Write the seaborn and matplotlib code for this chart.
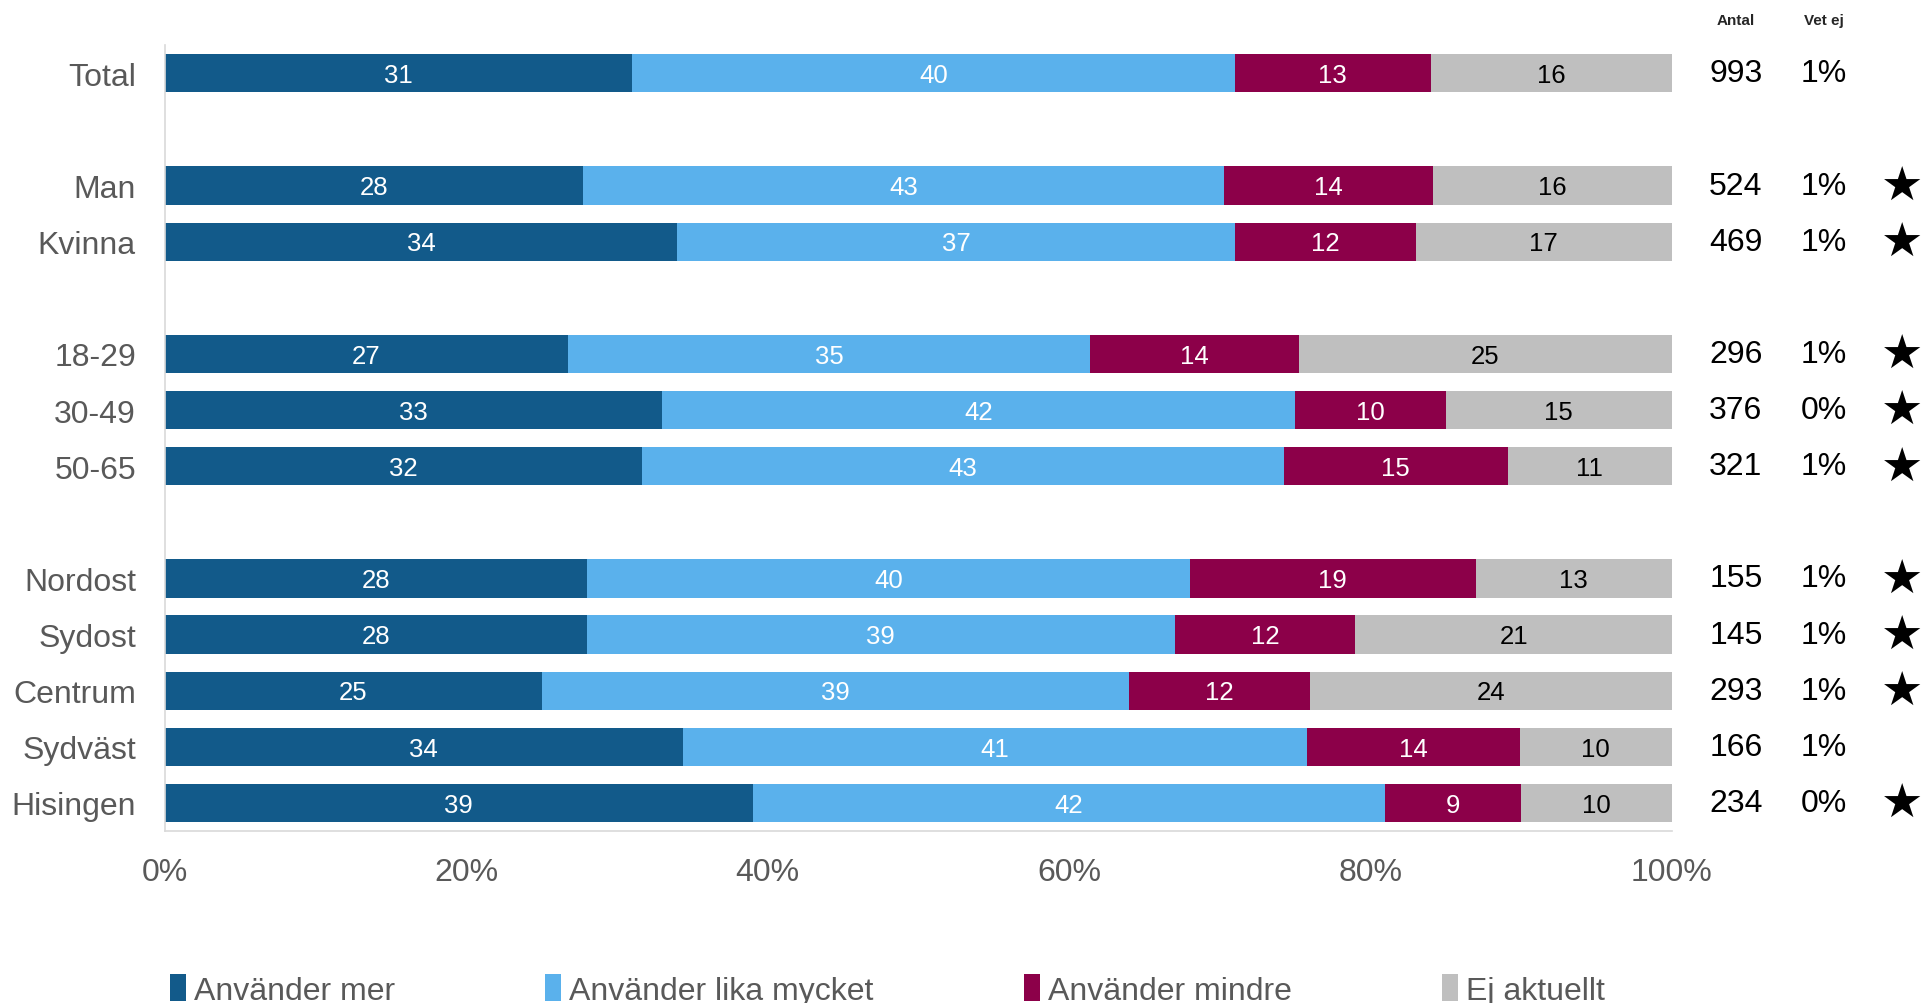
import numpy as np
import pandas as pd
import matplotlib
matplotlib.use("Agg")
import matplotlib.pyplot as plt
import matplotlib.transforms as mtransforms
from matplotlib.patches import Patch
import seaborn as sns

# ---- data ----
categories = ["Total", "Man", "Kvinna", "18-29", "30-49", "50-65",
              "Nordost", "Sydost", "Centrum", "Sydväst", "Hisingen"]
anvander_mer = [31, 28, 34, 27, 33, 32, 28, 28, 25, 34, 39]
anvander_lika = [40, 43, 37, 35, 42, 43, 40, 39, 39, 41, 42]
anvander_mindre = [13, 14, 12, 14, 10, 15, 19, 12, 12, 14, 9]
ej_aktuellt = [16, 16, 17, 25, 15, 11, 13, 21, 24, 10, 10]
antal = [993, 524, 469, 296, 376, 321, 155, 145, 293, 166, 234]
vet_ej = ["1%", "1%", "1%", "1%", "0%", "1%", "1%", "1%", "1%", "1%", "0%"]
star = [False, True, True, True, True, True, True, True, True, False, True]
order = ["Total", "", "Man", "Kvinna", " ", "18-29", "30-49", "50-65", "  ",
         "Nordost", "Sydost", "Centrum", "Sydväst", "Hisingen"]
series_names = ["Använder mer", "Använder lika mycket", "Använder mindre", "Ej aktuellt"]
colors = ["#125A8A", "#5AB1EC", "#8C0049", "#BFBFBF"]
label_colors = ["white", "white", "white", "black"]
xticks = [0, 20, 40, 60, 80, 100]
xticklabels = ["0%", "20%", "40%", "60%", "80%", "100%"]

# ---- build frame ----
vals = np.array([anvander_mer, anvander_lika, anvander_mindre, ej_aktuellt], dtype=float)
shares = vals / vals.sum(axis=0) * 100.0
cum = np.cumsum(shares, axis=0)
df = pd.DataFrame({"cat": categories})
for i in range(4):
    df[f"cum{i}"] = cum[i]

sns.set_style("white")
plt.rcParams["font.family"] = ["Liberation Sans", "DejaVu Sans"]

fig = plt.figure(figsize=(19.26, 10.04), dpi=100)
ax = fig.add_axes([0.0857, 0.1713, 0.868 - 0.0857, 0.954 - 0.1713])

for i in reversed(range(4)):
    sns.barplot(data=df, x=f"cum{i}", y="cat", order=order, orient="h",
                color=colors[i], saturation=1, width=0.68, ax=ax, linewidth=0)

# segment labels
ypos = {c: order.index(c) for c in categories}
for j, c in enumerate(categories):
    start = 0.0
    for i in range(4):
        end = cum[i, j]
        ax.text((start + end) / 2, ypos[c] + 0.03, f"{int(vals[i, j])}",
                ha="center", va="center", fontsize=18.5, color=label_colors[i])
        start = end

ax.set_xlim(0, 100)
ax.set_ylim(len(order) - 0.5, -0.5)
ax.set_xticks(xticks)
ax.set_xticklabels(xticklabels, fontsize=23, color="#595959")
ax.tick_params(axis="x", length=0, pad=19)
ax.tick_params(axis="y", length=0, pad=21, labelsize=23, labelcolor="#595959")
ax.set_xlabel("")
ax.set_ylabel("")
for s in ["top", "right"]:
    ax.spines[s].set_visible(False)
for s in ["left", "bottom"]:
    ax.spines[s].set_color("#D9D9D9")
    ax.spines[s].set_linewidth(1.2)

# right-hand columns
trans = mtransforms.blended_transform_factory(fig.transFigure, ax.transData)
for j, c in enumerate(categories):
    ax.text(0.9013, ypos[c], str(antal[j]), transform=trans, ha="center", va="center",
            fontsize=23, color="black")
    ax.text(0.947, ypos[c], vet_ej[j], transform=trans, ha="center", va="center",
            fontsize=23, color="black")
    if star[j]:
        ax.text(0.9875, ypos[c] + 0.03, "★", transform=trans, ha="center", va="center",
                fontsize=34, color="black", family="DejaVu Sans")

fig.text(0.9013, 0.979, "Antal", ha="center", va="center", fontsize=11, fontweight="bold")
fig.text(0.947, 0.979, "Vet ej", ha="center", va="center", fontsize=11, fontweight="bold")

handles = [Patch(facecolor=colors[i], edgecolor="none", label=series_names[i]) for i in range(4)]
leg = fig.legend(handles=handles, loc="center left", bbox_to_anchor=(170 / 1926, 0.013),
                 ncol=4, frameon=False, fontsize=23, handlelength=0.5, handleheight=0.9,
                 handletextpad=0.25, columnspacing=4.7, borderpad=0, borderaxespad=0)
for t in leg.get_texts():
    t.set_color("#595959")

fig.savefig("out.png", dpi=100)
